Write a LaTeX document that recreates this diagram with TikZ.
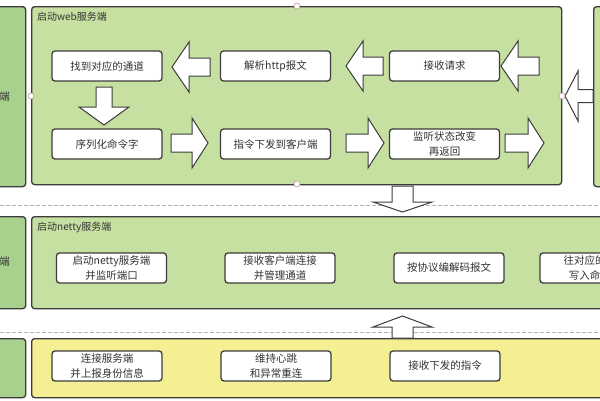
\documentclass[tikz,border=0pt]{standalone}
\usepackage{fontspec}
\setmainfont{Noto Sans CJK SC}
\definecolor{leftgreen}{HTML}{A9D18E}
\definecolor{boxgreen}{HTML}{C5E0A0}
\definecolor{boxyellow}{HTML}{F5EF94}
\definecolor{edge}{HTML}{3C3C3C}
\definecolor{txt}{HTML}{333333}
\definecolor{handle}{HTML}{C49A9A}
\tikzset{
  container/.style={draw=edge, line width=1.3pt, rounded corners=3pt, inner sep=0pt, anchor=north west},
  stepbox/.style={draw=edge, fill=white, line width=1.3pt, rounded corners=3pt, minimum width=110pt, minimum height=30pt, inner sep=0pt, align=center, text=txt, font=\fontsize{10.5}{15}\selectfont},
  boxlabel/.style={anchor=west, text=txt, inner sep=0pt, font=\fontsize{10}{12}\selectfont},
  blkarr/.style={draw=edge, fill=white, line width=1pt, line join=miter},
  sel/.style={draw=handle, fill=white, line width=0.6pt},
  sep/.style={draw=gray!60, line width=0.8pt, dash pattern=on 4pt off 2pt}
}
\newcommand\blkarrow[7]{%
  \begin{scope}[shift={(#1,#2)},rotate=#3]
    \draw[blkarr] (0,-#6) -- ({#4-#7},-#6) -- ({#4-#7},-#5) -- (#4,0) -- ({#4-#7},#5) -- ({#4-#7},#6) -- (0,#6) -- cycle;
  \end{scope}}
\begin{document}
\begin{tikzpicture}[x=1pt,y=-1pt]
\useasboundingbox (0,0) rectangle (600,400);
\fill[white] (0,0) rectangle (600,400);
\clip (0,0) rectangle (600,400);

% separators
\draw[sep] (0,205) -- (600,205);
\draw[sep] (0,332) -- (600,332);

% left column
\node[container, fill=leftgreen, minimum width=40pt, minimum height=180pt] (l1) at (-15,6) {};
\node[container, fill=leftgreen, minimum width=40pt, minimum height=92pt] (l2) at (-15,216) {};
\node[container, fill=leftgreen, minimum width=40pt, minimum height=59pt] (l3) at (-15,338) {};
\node[anchor=east, inner sep=0pt, text=txt, font=\fontsize{10.5}{12}\selectfont] (t1) at (10,97) {端};
\node[anchor=east, inner sep=0pt, text=txt, font=\fontsize{10.5}{12}\selectfont] (t2) at (10,262) {端};

% right column
\node[container, fill=boxgreen, minimum width=30pt, minimum height=180pt] (r1) at (593,6) {};

% containers
\node[container, fill=boxgreen, minimum width=530pt, minimum height=178pt] (web) at (31,6) {};
\node[boxlabel] (webl) at (37,17) {启动web服务端};
\node[container, fill=boxgreen, minimum width=590pt, minimum height=92pt] (netty) at (31,216) {};
\node[boxlabel] (nettyl) at (37,227) {启动netty服务端};
\node[container, fill=boxyellow, minimum width=590pt, minimum height=59pt] (client) at (31,338) {};

% web steps
\node[stepbox] (find) at (107,66) {找到对应的通道};
\node[stepbox] (parse) at (275.5,66) {解析http报文};
\node[stepbox] (recv) at (444.5,66) {接收请求};
\node[stepbox] (ser) at (107,144) {序列化命令字};
\node[stepbox] (send) at (275.5,144) {指令下发到客户端};
\node[stepbox] (listen) at (444.5,144) {监听状态改变\\再返回};

% netty steps
\node[stepbox] (n1) at (111.5,268) {启动netty服务端\\并监听端口};
\node[stepbox] (n2) at (280,268) {接收客户端连接\\并管理通道};
\node[stepbox] (n3) at (449,268) {按协议编解码报文};
\node[stepbox] (n4) at (595,268) {往对应的通道\\写入命令字};

% client steps
\node[stepbox] (c1) at (107,366) {连接服务端\\并上报身份信息};
\node[stepbox] (c2) at (276,366) {维持心跳\\和异常重连};
\node[stepbox] (c3) at (445,366) {接收下发的指令};

% block arrows: tail x, tail y, angle, length, half head, half body, head length
\blkarrow{210}{67}{180}{38}{25}{9}{17}
\blkarrow{383}{66}{180}{37}{25}{9}{17}
\blkarrow{539}{66}{180}{38}{25}{9}{17}
\blkarrow{104}{87}{-90}{38}{25}{8}{18}
\blkarrow{171}{143}{0}{37}{25}{9}{16}
\blkarrow{346}{143}{0}{38}{25}{9}{16}
\blkarrow{505}{143}{0}{39}{25}{9}{16}
\blkarrow{593}{96}{180}{28}{25}{6.5}{13}
\blkarrow{402.5}{186}{-90}{26}{29.5}{10.5}{10}
\blkarrow{402.5}{338}{90}{22}{29.5}{10.5}{11}

% selection handles
\draw[sel] (297,6) circle (3);
\draw[sel] (297,184) circle (3);
\draw[sel] (31,96) circle (3);
\draw[sel] (562,96) circle (3);
\end{tikzpicture}
\end{document}
